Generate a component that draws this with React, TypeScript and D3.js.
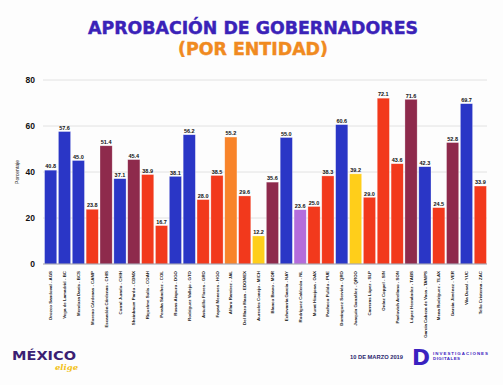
import React from "react";
import * as d3 from "d3";

const names = [
  "Orozco Sandoval - AGS", "Vega de Lamadrid - BC", "Mendoza Davis - BCS", "Moreno Cárdenas - CAMP",
  "Escandón Cárdenas - CHIS", "Corral Jurado - CHIH", "Sheinbaum Pardo - CDMX", "Riquelme Solís - COAH",
  "Peralta Sánchez - COL", "Rosas Aispuro - DGO", "Rodríguez Vallejo - GTO", "Astudillo Flores - GRO",
  "Fayad Meneses - HGO", "Alfaro Ramírez - JAL", "Del Mazo Maza - EDOMEX", "Aureoles Conejo - MICH",
  "Blanco Bravo - MOR", "Echevarría García - NAY", "Rodríguez Calderón - NL", "Murat Hinojosa - OAX",
  "Pacheco Pulido - PUE", "Domínguez Servién - QRO", "Joaquín González - QROO", "Carreras López - SLP",
  "Ordaz Coppel - SIN", "Pavlovich Arellano - SON", "López Hernández - TABS", "García Cabeza de Vaca - TAMPS",
  "Mena Rodríguez - TLAX", "García Jiménez - VER", "Vila Dosal - YUC", "Tello Cristerna - ZAC",
];
const values = [
  40.8, 57.6, 45.0, 23.8, 51.4, 37.1, 45.4, 38.9, 16.7, 38.1, 56.2, 28.0, 38.5, 55.2, 29.6, 12.2,
  35.6, 55.0, 23.6, 25.0, 38.3, 60.6, 39.2, 29.0, 72.1, 43.6, 71.6, 42.3, 24.5, 52.8, 69.7, 33.9,
];
const parties = [
  "PAN", "PAN", "PAN", "PRI", "MORENA", "PAN", "MORENA", "PRI", "PRI", "PAN", "PAN", "PRI",
  "PRI", "MC", "PRI", "PRD", "MORENA", "PAN", "IND", "PRI", "PRI", "PAN", "PRD", "PRI",
  "PRI", "PRI", "MORENA", "PAN", "PRI", "MORENA", "PAN", "PRI",
];
const yTicks = [0, 20, 40, 60, 80];

const partyColor: Record<string, string> = {
  PAN: "#2A36C6",
  PRI: "#F2391C",
  MORENA: "#8E2A4C",
  MC: "#F8842A",
  PRD: "#FFCE1A",
  IND: "#B46CDC",
};

const W = 503;
const H = 385;
const font = "'Liberation Sans', Arial, sans-serif";

export default function App() {
  const x = d3.scaleBand<string>().domain(names).range([44, 487]).paddingInner(0.12).paddingOuter(0.04);
  const y = d3.scaleLinear().domain([0, 80]).range([264, 80]);

  return (
    <svg width={W} height={H} style={{ position: "absolute", left: 0, top: 0, background: "#fdfdfd" }}>
      <rect x={0} y={0} width={W} height={H} fill="#fdfdfd" />
      <text x={253} y={34} textAnchor="middle" fontFamily="'DejaVu Sans Condensed', 'DejaVu Sans', sans-serif" fontWeight="bold" fontSize={18.5} fill="#3A22B8" stroke="#3A22B8" strokeWidth={0.4} textLength={330} lengthAdjust="spacingAndGlyphs">
        APROBACIÓN DE GOBERNADORES
      </text>
      <text x={253} y={55} textAnchor="middle" fontFamily="'DejaVu Sans Condensed', 'DejaVu Sans', sans-serif" fontWeight="bold" fontSize={18.5} fill="#F08A20" stroke="#F08A20" strokeWidth={0.4} textLength={150} lengthAdjust="spacingAndGlyphs">
        (POR ENTIDAD)
      </text>

      {yTicks.map((t) => (
        <g key={t}>
          {t > 0 && <line x1={43} x2={487} y1={y(t)} y2={y(t)} stroke="#e2e2e2" strokeWidth={1} />}
          <text x={35} y={y(t) + 3} textAnchor="end" fontFamily={font} fontWeight="bold" fontSize={8.5} fill="#111">
            {t}
          </text>
        </g>
      ))}
      <text transform={`translate(19,${172}) rotate(-90)`} textAnchor="middle" fontFamily={font} fontSize={5} fill="#222">
        Porcentaje
      </text>

      {names.map((n, i) => {
        const bx = x(n)!;
        const bw = x.bandwidth();
        const v = values[i];
        return (
          <g key={n}>
            <rect x={bx} y={y(v)} width={bw} height={y(0) - y(v)} fill={partyColor[parties[i]]} stroke="#ffffff" strokeOpacity={0.5} strokeWidth={0.6} />
            <text x={bx + bw / 2} y={y(v) - 1.8} textAnchor="middle" fontFamily={font} fontWeight="bold" fontSize={5.5} fill="#111">
              {v.toFixed(1)}
            </text>
            <text transform={`translate(${bx + bw / 2 + 1.6},${271}) rotate(-90)`} textAnchor="end" fontFamily={font} fontWeight="bold" fontSize={4.4} fill="#222">
              {n}
            </text>
          </g>
        );
      })}
      <line x1={43} x2={487} y1={y(0)} y2={y(0)} stroke="#9a9aa8" strokeWidth={1} />

      {/* footer */}
      <text x={12} y={360} fontFamily="'DejaVu Sans', sans-serif" fontWeight="bold" fontSize={13} fill="#3B1F73" textLength={64} lengthAdjust="spacingAndGlyphs">
        MÉXICO
      </text>
      <text x={55} y={370} fontFamily="'DejaVu Serif', serif" fontStyle="italic" fontWeight="bold" fontSize={8} fill="#F2C21B" textLength={23} lengthAdjust="spacingAndGlyphs">
        elige
      </text>
      <text x={350} y={359} fontFamily={font} fontWeight="bold" fontSize={5.6} fill="#2B1F6E" textLength={53} lengthAdjust="spacingAndGlyphs">
        10 DE MARZO 2019
      </text>
      <text x={412} y={365} fontFamily="'DejaVu Sans', sans-serif" fontWeight="bold" fontSize={22} fill="#3A22C0" textLength={18} lengthAdjust="spacingAndGlyphs">
        D
      </text>
      <text x={433} y={355} fontFamily={font} fontWeight="bold" fontSize={4.4} fill="#3A22C0" textLength={55} lengthAdjust="spacing">
        INVESTIGACIONES
      </text>
      <text x={433} y={360} fontFamily={font} fontWeight="bold" fontSize={4.4} fill="#3A22C0" textLength={27} lengthAdjust="spacing">
        DIGITALES
      </text>
    </svg>
  );
}
